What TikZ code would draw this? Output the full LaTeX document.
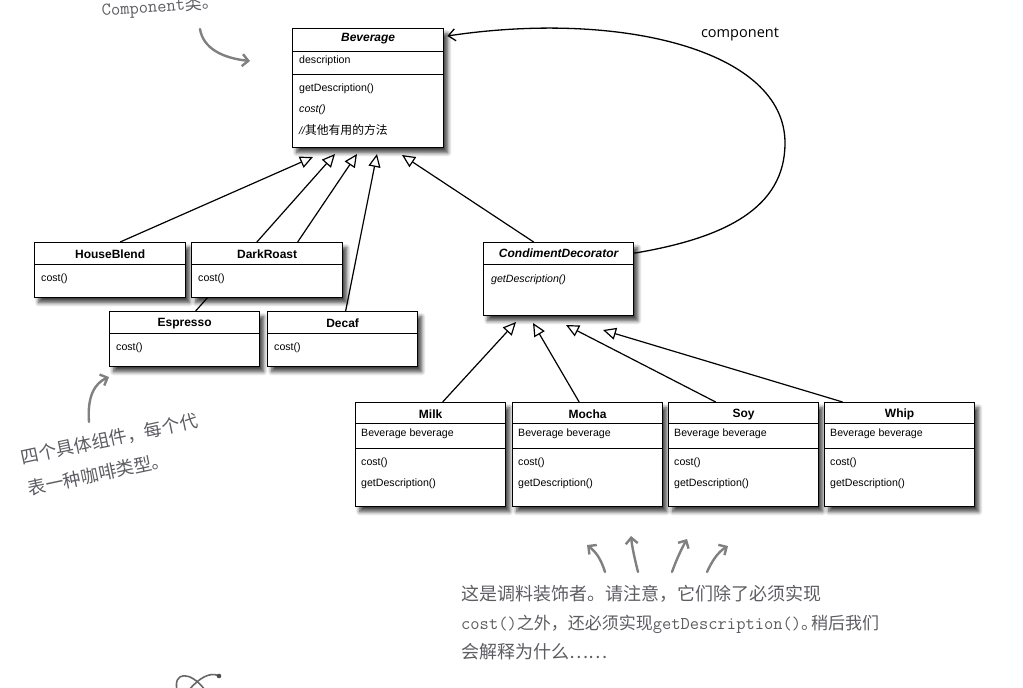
\documentclass[tikz,border=0pt]{standalone}
\usepackage{fontspec}
\setmainfont{Liberation Sans}
\newfontfamily\cjk{Noto Sans CJK SC}
\newfontfamily\lblfont{Open Sans}
\usetikzlibrary{arrows.meta,shadows.blur,backgrounds,calc}
\definecolor{notegray}{RGB}{92,92,98}
\definecolor{arrowgray}{RGB}{128,128,128}
\tikzset{
 classbox/.style={draw=black, line width=1.3pt, fill=white, anchor=north west, inner sep=0pt,
   blur shadow={shadow xshift=4pt, shadow yshift=-5pt, shadow blur steps=6, shadow blur radius=4pt, shadow opacity=75}},
 sepline/.style={line width=0.9pt},
 ctitle/.style={font=\fontsize{12}{14}\selectfont\bfseries, inner sep=0pt},
 citem/.style={font=\fontsize{10.6}{12}\selectfont, anchor=west, inner sep=0pt},
 inherit/.style={line width=1.2pt, -{Triangle[open, length=13pt, width=12pt]}},
 note/.style={text=notegray, inner sep=0pt},
 handarrow/.style={draw=arrowgray, line width=2.4pt, line cap=round, -{Straight Barb[length=6pt, width=12pt]}}
}
\newcommand\hsep[2]{\draw[sepline] ([yshift=-#2pt]#1.north west) -- ([yshift=-#2pt]#1.north east);}
\newcommand\notett[1]{{\ttfamily\addfontfeatures{FakeStretch=0.88}\fontsize{18}{20}\selectfont #1}}
\begin{document}
\begin{tikzpicture}[x=1pt,y=-1pt]
\useasboundingbox (0,0) rectangle (1023,688);
\clip (0,0) rectangle (1023,688);

% ---------- class boxes ----------
\node[classbox, minimum width=151pt, minimum height=119pt] (bev) at (292,28) {};
\hsep{bev}{23}\hsep{bev}{46}
\node[ctitle] (bevT) at ([yshift=-11pt]bev.north) {\itshape Beverage};
\node[citem] (bev1) at ([xshift=7pt,yshift=-33pt]bev.north west) {description};
\node[citem] (bev2) at ([xshift=7pt,yshift=-61pt]bev.north west) {getDescription()};
\node[citem] (bev3) at ([xshift=7pt,yshift=-82pt]bev.north west) {\itshape cost()};
\node[citem] (bev4) at ([xshift=7pt,yshift=-102pt]bev.north west) {\itshape //{\cjk\fontsize{11.8}{12}\selectfont 其他有用的方法}};

\node[classbox, minimum width=151pt, minimum height=55pt] (hb) at (34,242) {};
\hsep{hb}{22}
\node[ctitle] (hbT) at ([yshift=-12.5pt]hb.north) {HouseBlend};
\node[citem] (hb1) at ([xshift=7pt,yshift=-37pt]hb.north west) {cost()};

\node[classbox, minimum width=151pt, minimum height=55pt] (dr) at (191,242) {};
\hsep{dr}{22}
\node[ctitle] (drT) at ([yshift=-12.5pt]dr.north) {DarkRoast};
\node[citem] (dr1) at ([xshift=7pt,yshift=-37pt]dr.north west) {cost()};

\node[classbox, minimum width=150pt, minimum height=55pt] (es) at (109,311) {};
\hsep{es}{22}
\node[ctitle] (esT) at ([yshift=-12.5pt]es.north) {Espresso};
\node[citem] (es1) at ([xshift=7pt,yshift=-37pt]es.north west) {cost()};

\node[classbox, minimum width=150pt, minimum height=55pt] (dc) at (267,311) {};
\hsep{dc}{22}
\node[ctitle] (dcT) at ([yshift=-12.5pt]dc.north) {Decaf};
\node[citem] (dc1) at ([xshift=7pt,yshift=-37pt]dc.north west) {cost()};

\node[classbox, minimum width=150pt, minimum height=73pt] (cd) at (483,242) {};
\hsep{cd}{22}
\node[ctitle] (cdT) at ([yshift=-11.5pt]cd.north) {\itshape CondimentDecorator};
\node[citem] (cd1) at ([xshift=8pt,yshift=-38pt]cd.north west) {\itshape getDescription()};

\foreach \nm/\x/\ttl in {milk/355/Milk, mocha/512/Mocha, soy/668/Soy, whip/824/Whip}{
  \node[classbox, minimum width=150pt, minimum height=104pt] (\nm) at (\x,402) {};
  \hsep{\nm}{21}\hsep{\nm}{46}
  \node[ctitle] (\nm T) at ([yshift=-12.5pt]\nm.north) {\ttl};
  \node[citem] (\nm 1) at ([xshift=6pt,yshift=-32pt]\nm.north west) {Beverage beverage};
  \node[citem] (\nm 2) at ([xshift=6pt,yshift=-61pt]\nm.north west) {cost()};
  \node[citem] (\nm 3) at ([xshift=6pt,yshift=-82pt]\nm.north west) {getDescription()};
}

% ---------- arrow tip coordinates ----------
\coordinate (t1) at (313,157);
\coordinate (t2) at (335,154);
\coordinate (t3) at (357,154);
\coordinate (t4) at (377,154);
\coordinate (t5) at (402,155);
\coordinate (d1) at (516,322);
\coordinate (d2) at (533,323);
\coordinate (d3) at (566,325);
\coordinate (d4) at (603,330);

\begin{pgfonlayer}{background}
\draw[inherit] ([xshift=10pt]hb.north) -- (t1);
\draw[inherit] ([xshift=11pt]es.north) -- (t2);
\draw[inherit] ([xshift=30.5pt]dr.north) -- (t3);
\draw[inherit] ([xshift=3pt]dc.north) -- (t4);
\draw[inherit] ([xshift=-25pt]cd.north) -- (t5);
\draw[inherit] ([xshift=12pt]milk.north) -- (d1);
\draw[inherit] ([xshift=-8.5pt]mocha.north) -- (d2);
\draw[inherit] ([xshift=-28pt]soy.north) -- (d3);
\draw[inherit] ([xshift=-57pt]whip.north) -- (d4);
\end{pgfonlayer}

% ---------- component association ----------
\draw[line width=1.3pt, -{Straight Barb[length=7pt, width=12pt]}]
  ([yshift=26pt]cd.east) .. controls (725,238) and (785,208) .. (785,143)
  .. controls (785,50) and (620,10) .. ([xshift=3pt,yshift=-8pt]bev.north east);
\node[inner sep=0pt, font=\lblfont\fontsize{14.5}{16}\selectfont] (complbl) at (740,34) {component};

% ---------- handwritten notes ----------
\node[note, anchor=base west, rotate=4] (topnote) at (102,16)
  {\notett{Component}{\cjk\fontsize{17}{18}\selectfont 类。}};
\draw[handarrow] (200,29) .. controls (203,48) and (222,58) .. (250,61);

\node[note, anchor=west, rotate=12, font=\cjk\fontsize{18}{20}\selectfont] (leftnote1) at (21,458) {四个具体组件，每个代};
\node[note, anchor=west, rotate=12, font=\cjk\fontsize{18}{20}\selectfont] (leftnote2) at (28,489) {表一种咖啡类型。};
\draw[handarrow] (89,422) .. controls (87,396) and (95,383) .. (109,377);

\draw[handarrow] (605,572) .. controls (601,559) and (596,552) .. (587,545);
\draw[handarrow] (638,572) .. controls (634,556) and (632,546) .. (631,536);
\draw[handarrow] (672,572) .. controls (677,558) and (682,548) .. (687,539);
\draw[handarrow] (707,572) .. controls (712,561) and (718,552) .. (728,546);

\node[note, anchor=west, font=\cjk\fontsize{18}{20}\selectfont] (bn1) at (461,594) {这是调料装饰者。请注意，它们除了必须实现};
\node[note, anchor=west, font=\cjk\fontsize{17}{20}\selectfont] (bn2) at (461,624)
  {\notett{cost()}之外，还必须实现\notett{getDescription()}。\kern-7pt 稍后我们};
\node[note, anchor=west, font=\cjk\fontsize{18}{20}\selectfont] (bn3) at (461,652) {会解释为什么……};

% ---------- partial doodle bottom-left ----------
\draw[arrowgray!80!black, line width=1.6pt, line cap=round] (177,690) .. controls (173,672) and (190,670) .. (205,690);
\draw[arrowgray!80!black, line width=1.6pt, line cap=round] (189,690) .. controls (198,679) and (210,671) .. (219,676);
\fill[arrowgray!60!black] (219,676) circle (2.3);
\end{tikzpicture}
\end{document}
